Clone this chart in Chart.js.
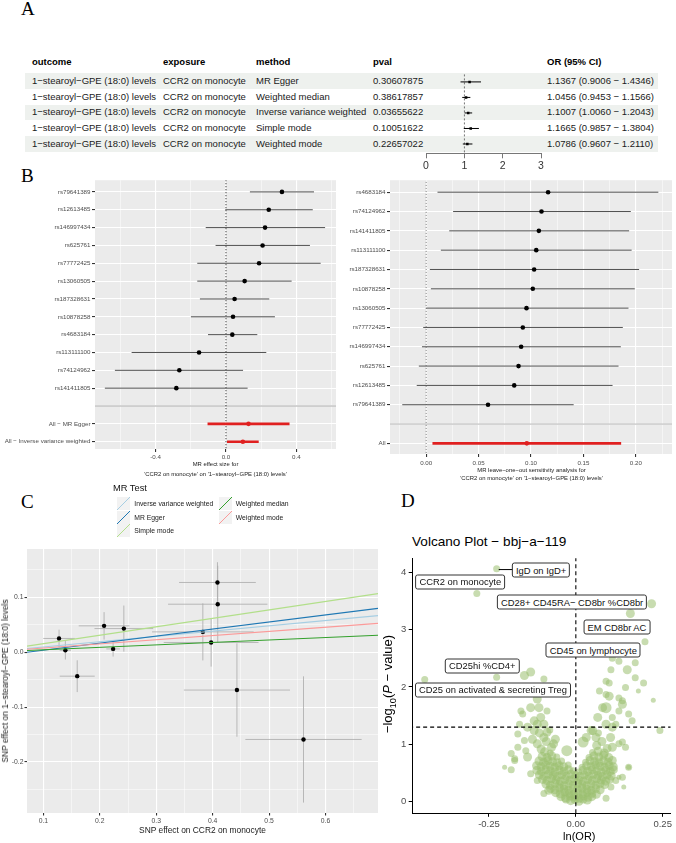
<!DOCTYPE html>
<html>
<head>
<meta charset="utf-8">
<title>MR figure</title>
<script src="https://cdn.jsdelivr.net/npm/chart.js@4.4.1/dist/chart.umd.min.js"></script>
<style>
  body { margin:0; width:676px; height:843px; position:relative; overflow:hidden; background:#fff;
         font-family:"Liberation Sans", Arial, sans-serif; color:#1a1a1a; }
  canvas, .t, .shade, .key, .vlab, .tag { position:absolute; }
  .tag { font-family:"Liberation Serif","Times New Roman",serif; font-size:19px; line-height:19px; color:#000; }
  .t { white-space:nowrap; }
  .shade { background:#eef1ee; }
  .key { width:13px; height:13px; }
  .vlab { transform:translate(-50%,-50%); white-space:nowrap; font-size:9.4px; line-height:10px;
          padding:1.5px 3px; border:0.8px solid #333; border-radius:2.5px; background:#fff; color:#111; }
</style>
</head>
<body>
<div class="tag" style="left:21px;top:-1px">A</div>
<div class="tag" style="left:21px;top:166px">B</div>
<div class="tag" style="left:21px;top:492px">C</div>
<div class="tag" style="left:401px;top:491px">D</div>
<script>
// ---- panel A : MR results table
const tabOutcome = "1−stearoyl−GPE (18:0) levels";
const tabExposure = "CCR2 on monocyte";
const tabMethod = ["MR Egger", "Weighted median", "Inverse variance weighted", "Simple mode", "Weighted mode"];
const tabPval = ["0.30607875", "0.38617857", "0.03655622", "0.10051622", "0.22657022"];
const tabOR = [1.1367, 1.0456, 1.1007, 1.1665, 1.0786];
const tabLo = [0.9006, 0.9453, 1.0060, 0.9857, 0.9607];
const tabHi = [1.4346, 1.1566, 1.2043, 1.3804, 1.2110];
const tabTicks = [0, 1, 2, 3];

// ---- panel B left : single SNP forest
const snpLeft = ["rs79641389", "rs12613485", "rs146997434", "rs625761", "rs77772425", "rs13060505",
                 "rs187328631", "rs10878258", "rs4683184", "rs113111100", "rs74124962", "rs141411805"];
const snpLeftB = [0.318, 0.243, 0.222, 0.208, 0.188, 0.106, 0.049, 0.040, 0.036, -0.153, -0.265, -0.282];
const snpLeftLo = [0.136, -0.004, -0.115, -0.059, -0.163, -0.163, -0.148, -0.199, -0.102, -0.536, -0.631, -0.688];
const snpLeftHi = [0.500, 0.493, 0.563, 0.477, 0.538, 0.373, 0.246, 0.278, 0.178, 0.229, 0.097, 0.123];
const allLeftLabels = ["All − MR Egger", "All − Inverse variance weighted"];
const allLeftB = [0.128, 0.096];
const allLeftLo = [-0.1047, 0.006];
const allLeftHi = [0.361, 0.186];

// ---- panel B right : leave-one-out
const looSnp = ["rs4683184", "rs74124962", "rs141411805", "rs113111100", "rs187328631", "rs10878258",
                "rs13060505", "rs77772425", "rs146997434", "rs625761", "rs12613485", "rs79641389"];
const looB = [0.1163, 0.1100, 0.1075, 0.1050, 0.1030, 0.1017, 0.0957, 0.0922, 0.0906, 0.0881, 0.0840, 0.0590];
const looLo = [0.0108, 0.0257, 0.0220, 0.0140, 0.0035, 0.0045, 0.0000, -0.0028, -0.0040, -0.0070, -0.0090, -0.0228];
const looHi = [0.2215, 0.1952, 0.1936, 0.1960, 0.2031, 0.1990, 0.1930, 0.1876, 0.1857, 0.1835, 0.1778, 0.1407];
const looAll = [0.096, 0.006, 0.186];

// ---- panel C : scatter of SNP effects
const snpBx = [0.1278, 0.139, 0.160, 0.2076, 0.2236, 0.2426, 0.3826, 0.3973, 0.409, 0.4085, 0.443, 0.561];
const snpBxSe = [0.028, 0.010, 0.031, 0.045, 0.012, 0.052, 0.090, 0.084, 0.088, 0.068, 0.094, 0.103];
const snpBy = [0.025, 0.0036, -0.0437, 0.048, 0.006, 0.043, 0.037, 0.0177, 0.0874, 0.127, -0.069, -0.159];
const snpBySe = [0.016, 0.017, 0.029, 0.025, 0.014, 0.042, 0.052, 0.044, 0.070, 0.037, 0.085, 0.115];
const mrMethods = ["Inverse variance weighted", "MR Egger", "Simple mode", "Weighted median", "Weighted mode"];
const mrSlope = [0.0960, 0.1283, 0.1541, 0.0446, 0.0757];
const mrIntercept = [0, -0.0091, 0, 0, 0];
const mrColors = ["#a6cee3", "#1f78b4", "#b2df8a", "#33a02c", "#fb9a99"];

// ---- panel D : volcano  [ln(OR), -log10(p), size]
const volcanoPoints = [
  [-0.028,0.05,3],[-0.015,0.02,3],[-0.003,0.04,3],[0.009,0.01,3],[0.021,0.05,3],[0.033,0.03,3],
  [-0.043,0.09,3],[-0.03,0.07,3],[-0.017,0.1,3],[-0.004,0.08,3],[0.009,0.06,3],[0.022,0.1,3],[0.035,0.08,3],[0.046,0.09,3],
  [-0.058,0.16,3],[-0.045,0.14,3],[-0.032,0.17,3],[-0.019,0.15,3],[-0.006,0.13,3],[0.007,0.16,3],[0.02,0.14,3],[0.033,0.17,3],[0.046,0.15,3],[0.059,0.13,3],
  [-0.073,0.23,3],[-0.06,0.21,3],[-0.047,0.24,3],[-0.034,0.22,3],[-0.021,0.2,3],[-0.008,0.23,3],[0.005,0.21,3],[0.018,0.24,3],[0.031,0.22,3],[0.044,0.2,3],[0.057,0.23,3],[0.07,0.21,3],
  [-0.086,0.31,3],[-0.073,0.29,3],[-0.06,0.32,3],[-0.047,0.3,3],[-0.034,0.28,3],[-0.021,0.31,3],[-0.008,0.29,3],[0.005,0.32,3],[0.018,0.3,3],[0.031,0.28,3],[0.044,0.31,3],[0.057,0.29,3],[0.07,0.32,3],[0.083,0.3,3],
  [-0.096,0.39,3],[-0.083,0.37,3],[-0.07,0.4,3],[-0.057,0.38,3],[-0.044,0.36,3],[-0.031,0.39,3],[-0.018,0.37,3],[-0.005,0.4,3],[0.008,0.38,3],[0.021,0.36,3],[0.034,0.39,3],[0.047,0.37,3],[0.06,0.4,3],[0.073,0.38,3],[0.086,0.36,3],[0.097,0.39,3],
  [-0.105,0.47,3],[-0.092,0.45,3],[-0.079,0.48,3],[-0.066,0.46,3],[-0.053,0.44,3],[-0.04,0.47,3],[-0.027,0.45,3],[-0.014,0.48,3],[-0.001,0.46,3],[0.012,0.44,3],[0.025,0.47,3],[0.038,0.45,3],[0.051,0.48,3],[0.064,0.46,3],[0.077,0.44,3],[0.09,0.47,3],[0.102,0.45,3],
  [-0.112,0.55,3],[-0.099,0.53,3],[-0.086,0.56,3],[-0.073,0.54,3],[-0.06,0.52,3],[-0.047,0.55,3],[-0.034,0.53,3],[-0.021,0.56,3],[-0.008,0.54,2],[0.008,0.52,2],[0.021,0.55,3],[0.034,0.53,3],[0.047,0.56,3],[0.06,0.54,3],[0.073,0.52,3],[0.086,0.55,3],[0.099,0.53,3],[0.108,0.56,3],
  [-0.113,0.63,3],[-0.1,0.61,3],[-0.087,0.64,3],[-0.074,0.62,3],[-0.061,0.6,3],[-0.048,0.63,3],[-0.035,0.61,3],[-0.022,0.64,2],[0.018,0.6,2],[0.031,0.63,3],[0.044,0.61,3],[0.057,0.64,3],[0.07,0.62,3],[0.083,0.6,3],[0.096,0.63,3],[0.108,0.61,3],
  [-0.106,0.71,3],[-0.093,0.69,3],[-0.08,0.72,3],[-0.067,0.7,3],[-0.054,0.68,3],[-0.041,0.71,2],[0.028,0.69,2],[0.041,0.72,3],[0.054,0.7,3],[0.067,0.68,3],[0.08,0.71,3],[0.093,0.69,3],[0.105,0.72,3],
  [-0.097,0.79,3],[-0.083,0.77,3],[-0.069,0.8,3],[-0.055,0.78,2],[0.038,0.77,2],[0.052,0.8,3],[0.066,0.78,3],[0.08,0.81,3],[0.095,0.77,3],
  [-0.09,0.87,3],[-0.074,0.85,2],[0.048,0.86,2],[0.064,0.88,3],[0.082,0.85,3],
  [-0.07,0.95,3],[-0.085,1.05,3],[-0.1,0.92,3],[0.06,0.98,3],[0.075,1.05,3],[0.09,0.93,3],[0.065,1.2,2],
  [0.1,1.12,3],[-0.075,1.25,2],[-0.105,1.2,3],
  [-0.228,4.06,2],[-0.285,3.63,2],[0.218,3.45,3],[0.157,3.28,3],[0.199,2.79,2],[-0.228,2.17,2],[-0.435,2.13,2],
  [-0.13,2.26,3],[-0.148,2.2,3],[-0.092,2.14,2],[0.101,2.3,2],[0.148,2.3,3],[0.171,2.16,2],[0.195,2.07,2],
  [0.223,1.77,1],[0.087,1.64,4],[0.124,1.81,2],[0.134,1.7,3],[0.068,1.93,2],[0.087,2.1,2],[-0.111,1.79,3],
  [-0.13,1.64,3],[-0.083,1.58,2],[0.242,1.24,2],[-0.176,0.75,2],[-0.205,0.6,1],[0.124,0.43,1],[0.138,0.26,1],
  [0.152,0.6,1],[-0.12,1.41,3],[-0.139,1.3,3],[-0.092,1.35,3],[0.087,1.35,3],[0.115,1.35,2],[0.105,1.47,2],
  [0.049,1.24,3],[0.03,1.12,3],[-0.148,1.07,2],[-0.167,0.95,2],[0.124,1.01,2],[0.143,0.95,2],
  [0.105,2.5,2],[0.124,2.45,2],[0.171,2.42,2],[0.096,2.07,2],[0.087,1.87,2],[0.143,1.99,2],[0.18,1.93,1],
  [0.124,1.58,2],[0.063,1.47,3],[0.162,1.41,2],[-0.167,1.93,2],[-0.139,1.93,2],[-0.106,1.64,3],[-0.153,1.53,2],
  [-0.101,1.47,3],[-0.12,1.24,3],[-0.083,1.21,3],[-0.167,1.18,2],[-0.144,0.89,2],[-0.111,1.01,3],[-0.186,0.84,2],
  [-0.064,1.01,3],[-0.158,1.58,2],[-0.176,0.72,2],[-0.186,0.56,2],[-0.139,0.78,3],[-0.125,1.09,3],[-0.092,1.12,3],
  [-0.111,1.35,3],[-0.162,1.35,2],[-0.059,1.09,3],[-0.026,0.89,4],[0.021,1.04,4],[0.077,1.64,3],[0.096,1.84,3],
  [0.134,1.76,2],[0.152,1.53,2],[0.105,1.3,3],[0.058,1.12,3],[0.044,1.24,3],[0.105,0.95,3],[0.134,1.04,2],
  [0.152,0.6,2],[0.134,0.43,2],[0.115,0.37,2],[0.101,0.26,2],[0.087,0.06,2],[-0.078,0.2,3],[-0.111,0.37,2],
  [-0.13,0.49,2],[-0.092,0.145,2]
];
const volcanoLabelText = ["IgD on IgD+", "CCR2 on monocyte", "CD28+ CD45RA− CD8br %CD8br", "EM CD8br AC",
                          "CD45 on lymphocyte", "CD25hi %CD4+", "CD25 on activated & secreting Treg"];
const volcanoLabelX = [-0.100, -0.3326, -0.0107, 0.1184, 0.0504, -0.2694, -0.2385];
const volcanoLabelY = [4.036, 3.83, 3.475, 3.043, 2.64, 2.37, 1.95];
const volcanoXTicks = [-0.25, 0, 0.25];
const volcanoYTicks = [0, 1, 2, 3, 4];

// ------------------------------------------------------------------
Chart.defaults.font.family = '"Liberation Sans", Arial, sans-serif';
Chart.register({
  id: 'panelBg',
  beforeDraw(chart, args, opts) {
    if (!opts.color) return;
    const a = chart.chartArea, ctx = chart.ctx;
    ctx.save();
    ctx.fillStyle = opts.color;
    ctx.fillRect(a.left, a.top, a.right - a.left, a.bottom - a.top);
    ctx.restore();
  }
});

// place a canvas and force its plot area to the given page box
function makeChart(L, T, W, H, area, config) {
  const cv = document.createElement('canvas');
  cv.width = W; cv.height = H;
  cv.style.left = L + 'px'; cv.style.top = T + 'px';
  cv.style.width = W + 'px'; cv.style.height = H + 'px';
  document.body.appendChild(cv);
  const o = config.options;
  o.responsive = false; o.animation = false; o.devicePixelRatio = 1; o.events = [];
  o.layout = {padding: {left: 0, top: area.t - T, right: L + W - area.r, bottom: 0}};
  o.scales.x.afterFit = s => { s.height = T + H - area.b; };
  o.scales.y.afterFit = s => { s.width = area.l - L; };
  o.plugins = Object.assign({legend: {display: false}, tooltip: {enabled: false}}, o.plugins || {});
  return new Chart(cv, config);
}

function segs(list) {
  const d = [];
  list.forEach(s => { d.push({x: s[0], y: s[1]}, {x: s[2], y: s[3]}, {x: NaN, y: null}); });
  return d;
}
function lineSet(data, color, width, dash) {
  return {data: data, showLine: true, borderColor: color, borderWidth: width, borderDash: dash || [],
          pointRadius: 0, spanGaps: false};
}
function dotSet(data, color, r, style) {
  return {data: data, backgroundColor: color, pointBorderWidth: 0, pointRadius: r, pointStyle: style || 'circle'};
}
function text(str, x, y, size, o) {
  o = o || {};
  const d = document.createElement('div');
  d.className = 't';
  if (o.html) d.innerHTML = str; else d.textContent = str;
  d.style.fontSize = size + 'px';
  d.style.lineHeight = (size * 1.2) + 'px';
  d.style.left = x + 'px';
  d.style.top = y + 'px';
  let tr = 'translateY(-50%)';
  if (o.center) tr = 'translate(-50%,-50%)';
  if (o.rotate) tr = 'translate(-50%,-50%) rotate(-90deg)';
  d.style.transform = tr;
  if (o.bold) d.style.fontWeight = 'bold';
  if (o.color) d.style.color = o.color;
  document.body.appendChild(d);
  return d;
}

// ---------------- panel A
const rowY = [81, 96.7, 112.4, 128.1, 143.8];
rowY.forEach((y, i) => {
  if (i % 2 === 0) {
    const s = document.createElement('div');
    s.className = 'shade';
    s.style.left = '25px'; s.style.width = '633px';
    s.style.top = (y - 7.85) + 'px'; s.style.height = '15.7px';
    document.body.appendChild(s);
  }
});
const colX = [32, 163, 256, 373, 547];
["outcome", "exposure", "method", "pval", "OR (95% CI)"].forEach((h, i) => text(h, colX[i], 62, 9.5, {bold: true, color: '#000'}));
tabMethod.forEach((m, i) => {
  text(tabOutcome, colX[0], rowY[i], 9.5);
  text(tabExposure, colX[1], rowY[i], 9.5);
  text(m, colX[2], rowY[i], 9.5);
  text(tabPval[i], colX[3], rowY[i], 9.5);
  text(tabOR[i].toFixed(4) + " (" + tabLo[i].toFixed(4) + " − " + tabHi[i].toFixed(4) + ")", colX[4], rowY[i], 9.5);
});

makeChart(400, 70, 160, 105, {l: 426, t: 73, r: 541, b: 153.3}, {
  type: 'scatter',
  data: {datasets: [
    dotSet(tabOR.map((v, i) => ({x: v, y: i})), '#000', 1.8, 'rect'),
    lineSet(segs(tabOR.map((v, i) => [tabLo[i], i, tabHi[i], i])), '#000', 1),
    lineSet([{x: 1, y: -1}, {x: 1, y: 6}], '#555', 0.8, [2, 2])
  ]},
  options: {scales: {
    x: {type: 'linear', min: 0, max: 3,
        afterBuildTicks: s => { s.ticks = tabTicks.map(v => ({value: v})); },
        grid: {drawOnChartArea: false, tickLength: 5, tickColor: '#777'},
        border: {display: true, color: '#777', width: 1},
        ticks: {font: {size: 10.5}, color: '#333', padding: 2, maxRotation: 0, autoSkip: false}},
    y: {type: 'linear', display: false, min: -0.51, max: 4.6, reverse: true}
  }}
});

// ---------------- panel B left
const leftRows = snpLeft.concat([""], allLeftLabels);
const isMajL = v => v !== undefined && Math.abs(Math.round(v * 10)) % 4 === 0;
makeChart(0, 175, 340, 290, {l: 95, t: 180, r: 336, b: 449}, {
  type: 'scatter',
  data: {datasets: [
    dotSet(snpLeftB.map((v, i) => ({x: v, y: i})), '#000', 2.3),
    dotSet(allLeftB.map((v, i) => ({x: v, y: 13 + i})), '#e02020', 2.3),
    lineSet(segs(allLeftB.map((v, i) => [allLeftLo[i], 13 + i, allLeftHi[i], 13 + i])), '#e02020', 2.6),
    lineSet(segs(snpLeftB.map((v, i) => [snpLeftLo[i], i, snpLeftHi[i], i])), '#505050', 1),
    lineSet([{x: 0, y: -1}, {x: 0, y: 15}], '#000', 0.8, [1.2, 1.8]),
    lineSet([{x: -1, y: 12}, {x: 1, y: 12}], '#c4c4c4', 1.3)
  ]},
  options: {
    plugins: {panelBg: {color: '#ebebeb'}},
    scales: {
      x: {type: 'linear', min: -0.744, max: 0.625,
          afterBuildTicks: s => { s.ticks = [-0.6, -0.4, -0.2, 0, 0.2, 0.4, 0.6].map(v => ({value: v})); },
          grid: {color: '#fff', lineWidth: c => isMajL(c.tick && c.tick.value) ? 1.1 : 0.5, tickLength: 3,
                 tickColor: c => isMajL(c.tick && c.tick.value) ? '#333' : 'rgba(0,0,0,0)'},
          border: {display: false},
          ticks: {callback: v => isMajL(v) ? v.toFixed(1) : '', font: {size: 6.2}, color: '#4d4d4d', padding: 2,
                  maxRotation: 0, autoSkip: false}},
      y: {type: 'linear', min: -0.655, max: 14.41, reverse: true,
          afterBuildTicks: s => { s.ticks = leftRows.map((_, i) => ({value: i})); },
          grid: {color: '#fff', lineWidth: 1.1, tickLength: 3, tickColor: c => (c.tick && c.tick.value === 12) ? 'rgba(0,0,0,0)' : '#333'},
          border: {display: false},
          ticks: {callback: v => leftRows[v], font: {size: 6.2}, color: '#4d4d4d', padding: 1.5, autoSkip: false}}
    }
  }
});
text("MR effect size for", 215.5, 465, 5.9, {center: true});
text("'CCR2 on monocyte' on '1−stearoyl−GPE (18:0) levels'", 215.5, 475, 5.9, {center: true});

// ---------------- panel B right
const looRows = looSnp.concat(["", "All"]);
const isMajR = v => v !== undefined && Math.abs(Math.round(v * 1000)) % 50 === 0;
makeChart(340, 175, 336, 295, {l: 390, t: 180, r: 673, b: 454}, {
  type: 'scatter',
  data: {datasets: [
    dotSet(looB.map((v, i) => ({x: v, y: i})), '#000', 2.3),
    dotSet([{x: looAll[0], y: 13}], '#e02020', 2.3),
    lineSet(segs([[looAll[1], 13, looAll[2], 13]]), '#e02020', 2.6),
    lineSet(segs(looB.map((v, i) => [looLo[i], i, looHi[i], i])), '#505050', 1),
    lineSet([{x: 0, y: -1}, {x: 0, y: 15}], '#777', 0.9, [1.2, 1.8]),
    lineSet([{x: -1, y: 12}, {x: 1, y: 12}], '#c4c4c4', 1.3)
  ]},
  options: {
    plugins: {panelBg: {color: '#ebebeb'}},
    scales: {
      x: {type: 'linear', min: -0.0345, max: 0.2345,
          afterBuildTicks: s => { s.ticks = [-0.025, 0, 0.025, 0.05, 0.075, 0.1, 0.125, 0.15, 0.175, 0.2, 0.225].map(v => ({value: v})); },
          grid: {color: '#fff', lineWidth: c => isMajR(c.tick && c.tick.value) ? 1.1 : 0.5, tickLength: 3,
                 tickColor: c => isMajR(c.tick && c.tick.value) ? '#333' : 'rgba(0,0,0,0)'},
          border: {display: false},
          ticks: {callback: v => isMajR(v) ? v.toFixed(2) : '', font: {size: 6.2}, color: '#4d4d4d', padding: 2.4,
                  maxRotation: 0, autoSkip: false}},
      y: {type: 'linear', min: -0.62, max: 13.55, reverse: true,
          afterBuildTicks: s => { s.ticks = looRows.map((_, i) => ({value: i})); },
          grid: {color: '#fff', lineWidth: 1.1, tickLength: 3, tickColor: c => (c.tick && c.tick.value === 12) ? 'rgba(0,0,0,0)' : '#333'},
          border: {display: false},
          ticks: {callback: v => looRows[v], font: {size: 6.2}, color: '#4d4d4d', padding: 1.5, autoSkip: false}}
    }
  }
});
text("MR leave−one−out sensitivity analysis for", 531.5, 470.7, 5.9, {center: true});
text("'CCR2 on monocyte' on '1−stearoyl−GPE (18:0) levels'", 531.5, 478.5, 5.9, {center: true});

// ---------------- panel C
text("MR Test", 113, 489, 9.3, {color: '#111'});
const keyPos = [[117, 497], [117, 511], [117, 524], [218.5, 497], [218.5, 511]];
mrMethods.forEach((m, i) => {
  const k = document.createElement('div');
  k.className = 'key';
  k.style.left = keyPos[i][0] + 'px'; k.style.top = keyPos[i][1] + 'px';
  k.style.background = 'linear-gradient(135deg, transparent calc(50% - 0.6px), ' + mrColors[i] +
    ' calc(50% - 0.6px), ' + mrColors[i] + ' calc(50% + 0.6px), transparent calc(50% + 0.6px)), #f2f2f2';
  document.body.appendChild(k);
  text(m, keyPos[i][0] + 17.3, keyPos[i][1] + 6.5, 6.8);
});

const cXmin = 0.071, cXmax = 0.693;
const isMajC = v => v !== undefined && Math.abs(Math.round(v * 100)) % 10 === 0;
const cSets = [];
for (let i = mrMethods.length - 1; i >= 0; i--) {
  cSets.push(lineSet([{x: cXmin, y: mrIntercept[i] + mrSlope[i] * cXmin}, {x: cXmax, y: mrIntercept[i] + mrSlope[i] * cXmax}], mrColors[i], 1.1));
}
cSets.push(dotSet(snpBx.map((v, i) => ({x: v, y: snpBy[i]})), '#000', 2.2));
cSets.push(lineSet(segs(snpBx.map((v, i) => [v - snpBxSe[i], snpBy[i], v + snpBxSe[i], snpBy[i]])), '#a9a9a9', 0.8));
cSets.push(lineSet(segs(snpBx.map((v, i) => [v, snpBy[i] - snpBySe[i], v, snpBy[i] + snpBySe[i]])), '#a9a9a9', 0.8));
makeChart(0, 540, 386, 303, {l: 27, t: 549, r: 378, b: 813}, {
  type: 'scatter',
  data: {datasets: cSets},
  options: {
    plugins: {panelBg: {color: '#ebebeb'}},
    scales: {
      x: {type: 'linear', min: cXmin, max: cXmax,
          afterBuildTicks: s => { s.ticks = [0.1, 0.15, 0.2, 0.25, 0.3, 0.35, 0.4, 0.45, 0.5, 0.55, 0.6, 0.65].map(v => ({value: v})); },
          grid: {color: '#fff', lineWidth: c => isMajC(c.tick && c.tick.value) ? 1.1 : 0.5, tickLength: 2.5,
                 tickColor: c => isMajC(c.tick && c.tick.value) ? '#333' : 'rgba(0,0,0,0)'},
          border: {display: false},
          ticks: {callback: v => isMajC(v) ? v.toFixed(1) : '', font: {size: 6.8}, color: '#4d4d4d', padding: 1.5,
                  maxRotation: 0, autoSkip: false}},
      y: {type: 'linear', min: -0.293, max: 0.188,
          afterBuildTicks: s => { s.ticks = [-0.25, -0.2, -0.15, -0.1, -0.05, 0, 0.05, 0.1, 0.15].map(v => ({value: v})); },
          grid: {color: '#fff', lineWidth: c => isMajC(c.tick && c.tick.value) ? 1.1 : 0.5, tickLength: 2.5,
                 tickColor: c => isMajC(c.tick && c.tick.value) ? '#333' : 'rgba(0,0,0,0)'},
          border: {display: false},
          ticks: {callback: v => isMajC(v) ? v.toFixed(1) : '', font: {size: 6.8}, color: '#4d4d4d', padding: 1,
                  autoSkip: false}}
    }
  }
});
text("SNP effect on CCR2 on monocyte", 202.5, 830, 8.4, {center: true});
text("SNP effect on 1−stearoyl−GPE (18:0) levels", 4.5, 681, 8.4, {rotate: true});

// ---------------- panel D
text("Volcano Plot − bbj−a−119", 412, 542, 13.6, {color: '#000'});
const dL = 395, dT = 550;
const volc = makeChart(dL, dT, 281, 293, {l: 412.7, t: 556, r: 676, b: 813.3}, {
  type: 'scatter',
  data: {datasets: [
    lineSet([{x: -0.222, y: 4.045}, {x: -0.181, y: 4.045}], '#000', 1),
    lineSet([{x: 0, y: -0.2}, {x: 0, y: 4.3}], '#000', 1.1, [4, 3]),
    lineSet([{x: -0.5, y: 1.301}, {x: 0.3, y: 1.301}], '#000', 1.1, [4, 3]),
    {data: volcanoPoints.map(p => ({x: p[0], y: p[1]})), backgroundColor: 'rgba(155,192,112,0.55)',
     pointBorderWidth: 0, pointRadius: volcanoPoints.map(p => 1.5 + p[2] * 1.0)}
  ]},
  options: {scales: {
    x: {type: 'linear', min: -0.4696, max: 0.2725,
        afterBuildTicks: s => { s.ticks = volcanoXTicks.map(v => ({value: v})); },
        grid: {drawOnChartArea: false, tickLength: 3.5, tickColor: '#000'},
        border: {display: true, color: '#000', width: 1},
        ticks: {callback: v => v.toFixed(2), font: {size: 9.5}, color: '#4d4d4d', padding: 1.5, maxRotation: 0, autoSkip: false}},
    y: {type: 'linear', min: -0.2, max: 4.243,
        afterBuildTicks: s => { s.ticks = volcanoYTicks.map(v => ({value: v})); },
        grid: {drawOnChartArea: false, tickLength: 4, tickColor: '#000'},
        border: {display: true, color: '#000', width: 1},
        ticks: {callback: v => String(v), font: {size: 9.5}, color: '#4d4d4d', padding: 2.5, autoSkip: false}}
  }}
});
volcanoLabelText.forEach((t, i) => {
  const d = document.createElement('div');
  d.className = 'vlab';
  d.textContent = t;
  d.style.left = (dL + volc.scales.x.getPixelForValue(volcanoLabelX[i])) + 'px';
  d.style.top = (dT + volc.scales.y.getPixelForValue(volcanoLabelY[i])) + 'px';
  document.body.appendChild(d);
});
text("ln(OR)", 579.3, 836.5, 11, {center: true, color: '#000'});
text("−log<sub style='font-size:0.7em'>10</sub>(<i>P</i> − value)", 391, 684, 13, {rotate: true, html: true, color: '#000'});
</script>
</body>
</html>
